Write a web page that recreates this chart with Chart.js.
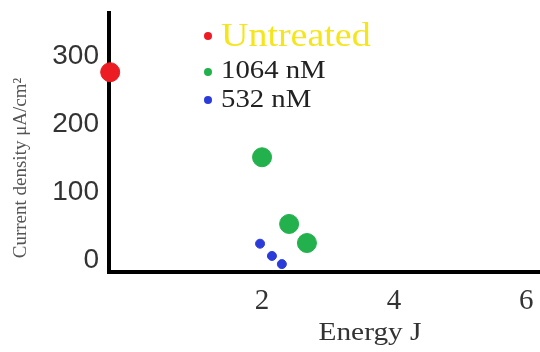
<!DOCTYPE html>
<html>
<head>
<meta charset="utf-8">
<script src="https://cdn.jsdelivr.net/npm/chart.js@4.4.0/dist/chart.umd.min.js"></script>
<style>
    html, body { margin: 0; padding: 0; background: #fff; }
    #wrap { width: 540px; height: 352px; }
</style>
</head>
<body>
<div id="wrap"><canvas id="grapharea"></canvas></div>
<script>
// energy (J) against current density (uA/cm2)
const untreatedEnergy = [-0.3];
const untreatedCurrent = [276];
const nm1064Energy = [2.0, 2.41, 2.68];
const nm1064Current = [151, 53, 25];
const nm532Energy = [1.97, 2.15, 2.3];
const nm532Current = [24, 6, -6];

const energyTicks = [2, 4, 6];
const currentTicks = [0, 100, 200, 300];

const seriesNames = ['Untreated', '1064 nM', '532 nM'];
const seriesColors = ['#ec1c24', '#22b14c', '#2b3bd9'];
const nameColors = ['#f5e61c', '#222222', '#222222'];

function toPoints(xs, ys){
    return xs.map((x, i) => ({x: x, y: ys[i]}));
}

// text that is a bit wider than the plain serif face
function wideText(ctx, text, x, y, sx){
    ctx.save();
    ctx.translate(x, y);
    ctx.scale(sx, 1);
    ctx.fillText(text, 0, 0);
    ctx.restore();
}

// legend inside the plot plus both axis titles
const sideText = {
    id: 'sideText',
    afterDraw(chart){
        const ctx = chart.ctx;
        ctx.save();

        const rows = [
            {dot: 36, base: 46, size: 33},
            {dot: 72, base: 78, size: 25},
            {dot: 100, base: 107, size: 25}
        ];
        rows.forEach((row, i) => {
            ctx.fillStyle = seriesColors[i];
            ctx.beginPath();
            ctx.arc(208, row.dot, 4, 0, Math.PI * 2);
            ctx.fill();
            ctx.fillStyle = nameColors[i];
            ctx.font = row.size + 'px "Liberation Serif"';
            ctx.textAlign = 'left';
            ctx.textBaseline = 'alphabetic';
            wideText(ctx, seriesNames[i], 221, row.base, 1.15);
        });

        ctx.fillStyle = '#333333';
        ctx.font = '26px "Liberation Serif"';
        ctx.textAlign = 'center';
        wideText(ctx, 'Energy J', 370, 340, 1.13);

        ctx.fillStyle = '#555555';
        ctx.font = '19px "Liberation Serif"';
        ctx.translate(26, 168);
        ctx.rotate(-Math.PI / 2);
        ctx.fillText('Current density \u03bcA/cm\u00b2', 0, 0);
        ctx.restore();
    }
};

let CurrencyChart = new Chart(document.getElementById('grapharea'), {
    type: 'scatter',
    data: {
        datasets: [{
            label: seriesNames[0],
            data: toPoints(untreatedEnergy, untreatedCurrent),
            backgroundColor: seriesColors[0],
            borderColor: seriesColors[0],
            pointRadius: 9.5,
            clip: false
        }, {
            label: seriesNames[1],
            data: toPoints(nm1064Energy, nm1064Current),
            backgroundColor: seriesColors[1],
            borderColor: seriesColors[1],
            pointRadius: 9.5,
            clip: false
        }, {
            label: seriesNames[2],
            data: toPoints(nm532Energy, nm532Current),
            backgroundColor: seriesColors[2],
            borderColor: seriesColors[2],
            pointRadius: 4.5,
            clip: false
        }]
    },
    options: {
        responsive: true,
        maintainAspectRatio: false,
        animation: false,
        layout: {
            autoPadding: false,
            padding: { top: 13, right: 0, bottom: 0, left: 0 }
        },
        plugins: {
            legend: { display: false },
            tooltip: { enabled: false }
        },
        scales: {
            x: {
                type: 'linear',
                min: -0.318,
                max: 6.21,
                grid: { display: false, drawTicks: false },
                border: { color: '#000000', width: 4 },
                afterBuildTicks: scale => {
                    scale.ticks = energyTicks.map(v => ({value: v}));
                },
                afterFit: scale => {
                    scale.height = 80;
                    scale.paddingLeft = 0;
                    scale.paddingRight = 0;
                },
                ticks: {
                    padding: 12,
                    maxRotation: 0,
                    color: '#333333',
                    font: { family: 'Liberation Serif', size: 29 }
                }
            },
            y: {
                min: -17.6,
                max: 363,
                grid: { display: false, drawTicks: false },
                border: { color: '#000000', width: 4 },
                afterBuildTicks: scale => {
                    scale.ticks = currentTicks.map(v => ({value: v}));
                },
                afterFit: scale => {
                    scale.width = 109;
                    scale.paddingTop = 0;
                    scale.paddingBottom = 0;
                },
                ticks: {
                    padding: 10,
                    color: '#333333',
                    font: { family: 'Liberation Sans', size: 28 }
                }
            }
        }
    },
    plugins: [sideText]
});
</script>
</body>
</html>
